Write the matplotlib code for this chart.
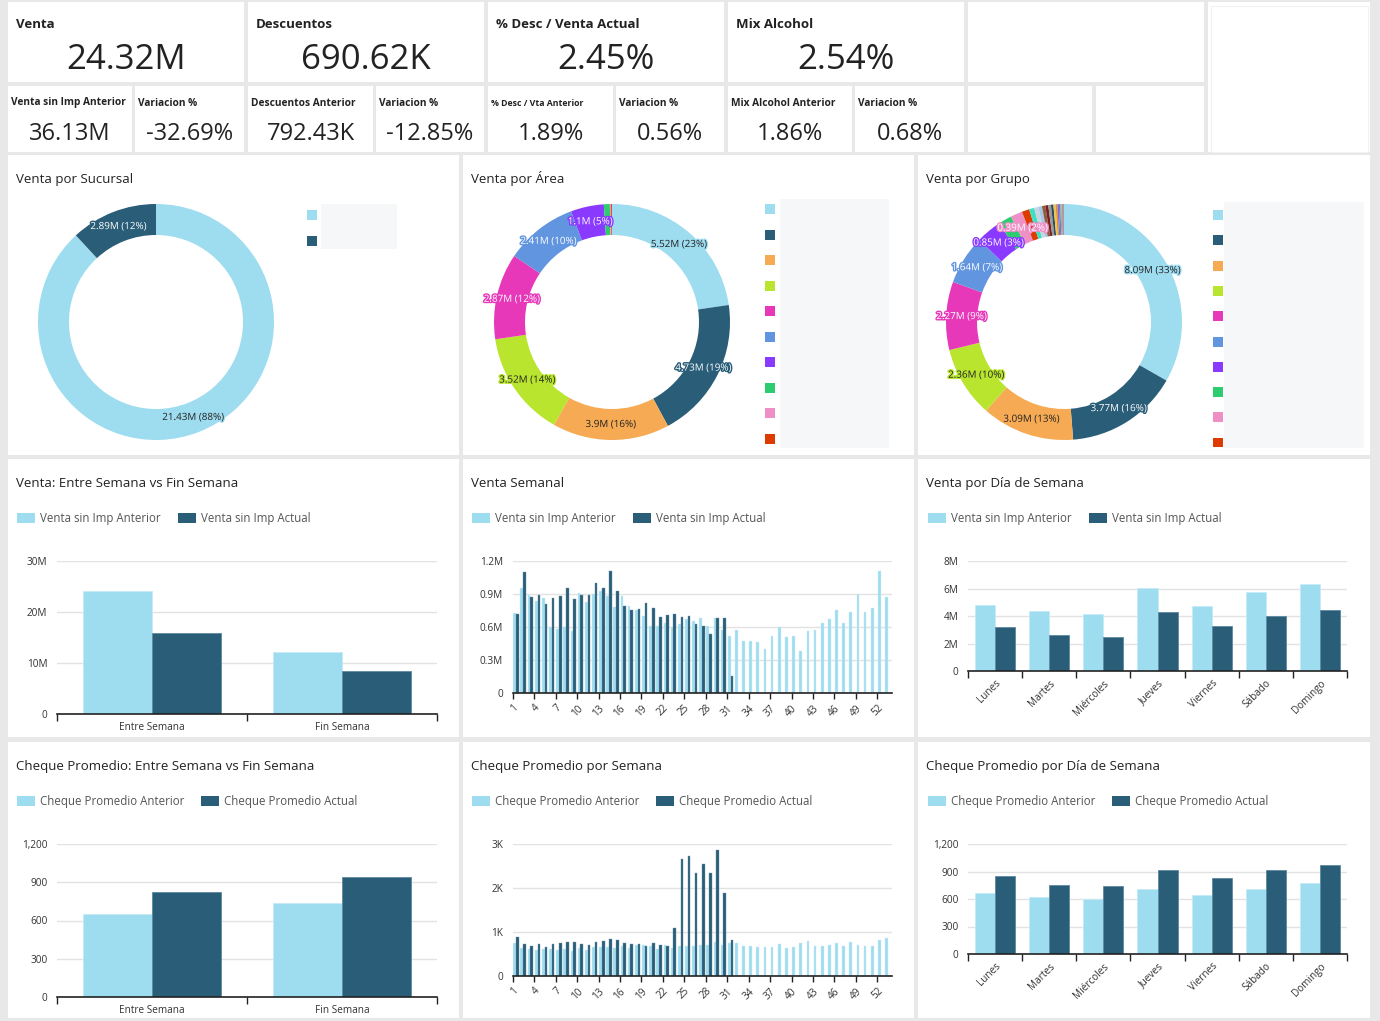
import numpy as np
import matplotlib.pyplot as plt
from matplotlib.patches import Rectangle
import matplotlib.patheffects as pe

plt.rcParams['font.family'] = ['Open Sans', 'DejaVu Sans']

# ---- data ----
kpi_titles = ["Venta", "Descuentos", "% Desc / Venta Actual", "Mix Alcohol"]
kpi_values = ["24.32M", "690.62K", "2.45%", "2.54%"]
sub_titles = ["Venta sin Imp Anterior", "Variacion %", "Descuentos Anterior", "Variacion %",
              "% Desc / Vta Anterior", "Variacion %", "Mix Alcohol Anterior", "Variacion %"]
sub_values = ["36.13M", "-32.69%", "792.43K", "-12.85%", "1.89%", "0.56%", "1.86%", "0.68%"]

sucursal_vals = [21.43, 2.89]
area_vals = [5.52, 4.73, 3.90, 3.52, 2.87, 2.41, 1.10, 0.20, 0.04, 0.03]
area_show = [True, True, True, True, True, True, True, False, False, False]
grupo_vals = [8.09, 3.77, 3.09, 2.36, 2.27, 1.64, 0.85, 0.45, 0.39,
              0.25, 0.17, 0.14, 0.12, 0.11, 0.10, 0.09, 0.08, 0.07, 0.06,
              0.05, 0.05, 0.04, 0.03, 0.03, 0.02]
grupo_show = [True] * 7 + [False, True] + [False] * 16

tipo_dia = ["Entre Semana", "Fin Semana"]
venta_tipo_ant = [24.03, 12.10]
venta_tipo_act = [15.90, 8.42]
cheque_tipo_ant = [651, 737]
cheque_tipo_act = [824, 941]

semanas = list(range(1, 54))
venta_sem_ant = [0.73, 0.95, 0.89, 0.84, 0.86, 0.60, 0.58, 0.60, 0.56, 0.91,
                 0.83, 0.90, 0.93, 0.88, 0.78, 0.88, 0.79, 0.75, 0.70, 0.61,
                 0.61, 0.64, 0.60, 0.63, 0.67, 0.65, 0.68, 0.61, 0.68, 0.57,
                 0.52, 0.57, 0.47, 0.47, 0.46, 0.40, 0.52, 0.60, 0.51, 0.52,
                 0.38, 0.56, 0.57, 0.64, 0.67, 0.75, 0.64, 0.74, 0.90, 0.74,
                 0.77, 1.11, 0.87]
venta_sem_act = [0.72, 1.10, 0.87, 0.89, 0.81, 0.86, 0.88, 0.955, 0.85, 0.89,
                 0.89, 1.00, 0.95, 1.11, 0.93, 0.79, 0.75, 0.76, 0.82, 0.77,
                 0.69, 0.71, 0.72, 0.69, 0.70, 0.63, 0.61, 0.54, 0.68, 0.68,
                 0.15]
cheque_sem_ant = [745, 640, 620, 590, 610, 610, 600, 615, 570, 640,
                  590, 650, 660, 650, 640, 690, 630, 700, 700, 680,
                  615, 705, 640, 690, 675, 675, 710, 700, 775, 705,
                  745, 745, 680, 680, 660, 660, 660, 720, 645, 660,
                  760, 800, 680, 680, 710, 760, 680, 775, 705, 690,
                  690, 810, 865]
cheque_sem_act = [880, 730, 675, 720, 660, 720, 745, 770, 775, 720,
                  700, 775, 800, 840, 810, 745, 720, 730, 680, 745,
                  700, 690, 1100, 2660, 2730, 2350, 2540, 2350, 2870, 1890,
                  820]

dias = ["Lunes", "Martes", "Miércoles", "Jueves", "Viernes", "Sábado", "Domingo"]
venta_dia_ant = [4.80, 4.36, 4.15, 6.01, 4.73, 5.75, 6.33]
venta_dia_act = [3.20, 2.64, 2.50, 4.27, 3.25, 4.00, 4.44]
cheque_dia_ant = [665, 622, 600, 713, 644, 709, 778]
cheque_dia_act = [851, 756, 738, 920, 829, 913, 975]

LIGHT, DARK = '#9EDCF0', '#2A5D78'
PAL = ['#9EDCF0', '#2A5D78', '#F6AA54', '#B9E52F', '#E638B9', '#6195E0', '#8A39FF',
       '#2ECC71', '#EE8FC5', '#DE3B00', '#3DE0C0', '#C9D4E3', '#A7C7E7', '#8B5E3C',
       '#7A1F1F', '#9A9A9A', '#2E4A62', '#E8C84A', '#F08A24', '#5A78D6', '#A05CD6',
       '#6BC17A', '#D98FB8', '#B5482E', '#4FA3C7']
TXT = '#222222'

W, H = 1380, 1021
fig = plt.figure(figsize=(W / 100, H / 100), dpi=100)
fig.patch.set_facecolor('#e8e8e8')
bg = fig.add_axes([0, 0, 1, 1])
bg.set_xlim(0, W)
bg.set_ylim(H, 0)
bg.axis('off')


def box(x0, y0, x1, y1, fc='white', ec='none', lw=0):
    bg.add_patch(Rectangle((x0, y0), x1 - x0, y1 - y0, facecolor=fc, edgecolor=ec, lw=lw))


def ax_px(x0, y0, x1, y1):
    a = fig.add_axes([x0 / W, 1 - y1 / H, (x1 - x0) / W, (y1 - y0) / H])
    a.patch.set_alpha(0)
    return a


# ── KPI cards ──
row1 = [(8, 2, 244, 82), (248, 2, 484, 82), (488, 2, 724, 82), (728, 2, 964, 82), (968, 2, 1204, 82)]
row2 = [(8, 86, 132, 152), (135, 86, 244, 152), (248, 86, 373, 152), (376, 86, 484, 152),
        (488, 86, 613, 152), (616, 86, 724, 152), (728, 86, 852, 152), (855, 86, 964, 152),
        (968, 86, 1092, 152), (1096, 86, 1204, 152)]
for r in row1 + row2:
    box(*r)
box(1208, 2, 1370, 152)
box(1211, 6, 1368, 152, fc='none', ec='#f2f2f2', lw=0.8)

for (x0, y0, x1, y1), t, v in zip(row1, kpi_titles, kpi_values):
    bg.text(x0 + 8, 24, t, fontsize=9.5, fontweight='bold', color=TXT, va='center')
    bg.text((x0 + x1) / 2, 60, v, fontsize=25, color=TXT, ha='center', va='center')
for (x0, y0, x1, y1), t, v in zip(row2, sub_titles, sub_values):
    fs = 6.3 if t.startswith('%') else 7.3
    bg.text(x0 + 3, 103, t, fontsize=fs, fontweight='bold', color=TXT, va='center')
    bg.text((x0 + x1) / 2, 134, v, fontsize=17, color=TXT, ha='center', va='center')

# ── panels ──
panels = {
    'suc': (8, 155, 459, 455), 'area': (463, 155, 914, 455), 'grupo': (918, 155, 1370, 455),
    'b1': (8, 459, 459, 737), 'b2': (463, 459, 914, 737), 'b3': (918, 459, 1370, 737),
    'c1': (8, 742, 459, 1018), 'c2': (463, 742, 914, 1018), 'c3': (918, 742, 1370, 1018),
}
titles = {
    'suc': "Venta por Sucursal", 'area': "Venta por Área", 'grupo': "Venta por Grupo",
    'b1': "Venta: Entre Semana vs Fin Semana", 'b2': "Venta Semanal", 'b3': "Venta por Día de Semana",
    'c1': "Cheque Promedio: Entre Semana vs Fin Semana", 'c2': "Cheque Promedio por Semana",
    'c3': "Cheque Promedio por Día de Semana",
}
for k, r in panels.items():
    box(*r)
    bg.text(r[0] + 8, r[1] + 24, titles[k], fontsize=9.5, color=TXT, va='center')


def fmt_m(v):
    s = f"{v:.2f}".rstrip('0').rstrip('.')
    return s + "M"


def donut(cx, cy, vals, show, total):
    r = 118
    ax = ax_px(cx - r, cy - r, cx + r, cy + r)
    width = 31 / 118
    wedges, _ = ax.pie(vals, colors=PAL[:len(vals)], startangle=90, counterclock=False,
                       radius=1, wedgeprops=dict(width=width, linewidth=0))
    ax.set_xlim(-1, 1)
    ax.set_ylim(-1, 1)
    ax.set_aspect('equal')
    rm = 1 - width / 2
    for w, v, s in zip(wedges, vals, show):
        if not s:
            continue
        ang = np.deg2rad((w.theta1 + w.theta2) / 2)
        fc = w.get_facecolor()
        light = fc[0] * 0.3 + fc[1] * 0.59 + fc[2] * 0.11 > 0.7
        ax.text(rm * np.cos(ang), rm * np.sin(ang),
                f"{fmt_m(v)} ({round(v / total * 100)}%)",
                ha='center', va='center', fontsize=7.1,
                color=TXT if light else 'white',
                path_effects=[pe.withStroke(linewidth=2, foreground=fc)])


total = sum(sucursal_vals)
donut(156, 322, sucursal_vals, [True, True], total)
donut(612, 322, area_vals, area_show, total)
donut(1064, 322, grupo_vals, grupo_show, total)

# donut legends (labels hidden)
box(321, 204, 397, 249, fc='#f6f7f8')
for i in range(len(sucursal_vals)):
    box(307, 210 + 26 * i, 317, 220 + 26 * i, fc=PAL[i])
box(780, 199, 889, 448, fc='#f6f7f8')
for i in range(10):
    yc = 209 + 25.5 * i
    box(765, yc - 5, 775, yc + 5, fc=PAL[i])
box(1224, 202, 1364, 448, fc='#f6f7f8')
for i in range(10):
    yc = 215 + 25.3 * i
    box(1213, yc - 5, 1223, min(yc + 5, 447), fc=PAL[i])


def legend(x0, y, labels):
    for x, lab, c in zip(x0, labels, [LIGHT, DARK]):
        box(x, y - 5, x + 18, y + 5, fc=c)
        bg.text(x + 23, y, lab, fontsize=8.3, color='#555555', va='center')


legend((17, 178), y=518, labels=["Venta sin Imp Anterior", "Venta sin Imp Actual"])
legend((472, 633), y=518, labels=["Venta sin Imp Anterior", "Venta sin Imp Actual"])
legend((928, 1089), y=518, labels=["Venta sin Imp Anterior", "Venta sin Imp Actual"])
legend((17, 201), y=801, labels=["Cheque Promedio Anterior", "Cheque Promedio Actual"])
legend((472, 656), y=801, labels=["Cheque Promedio Anterior", "Cheque Promedio Actual"])
legend((928, 1112), y=801, labels=["Cheque Promedio Anterior", "Cheque Promedio Actual"])


def style(ax, ylim, yticks, yticklabels):
    ax.set_ylim(*ylim)
    ax.set_yticks(yticks)
    ax.set_yticklabels(yticklabels)
    ax.tick_params(axis='y', length=0, pad=7, labelsize=7.2, labelcolor='#333333')
    ax.yaxis.grid(True, color='#e2e2e2', lw=1)
    ax.set_axisbelow(True)
    for s in ['top', 'right', 'left']:
        ax.spines[s].set_visible(False)
    ax.spines['bottom'].set_color('#222222')
    ax.spines['bottom'].set_linewidth(1.2)


def cat_bars(rect, cats, ant, act, ylim, yticks, yticklabels, rotate=False):
    ax = ax_px(*rect)
    n = len(cats)
    x = np.arange(n)
    w = 0.363 if not rotate else 0.37
    ax.bar(x - w / 2, ant, width=w, color=LIGHT, edgecolor='#c4ebf7', lw=0.6)
    ax.bar(x + w / 2, act, width=w, color=DARK, edgecolor='#5d8aa1', lw=0.6)
    ax.set_xlim(-0.5, n - 0.5)
    style(ax, ylim, yticks, yticklabels)
    ax.set_xticks(np.arange(-0.5, n, 1))
    ax.set_xticklabels([])
    ax.tick_params(axis='x', which='major', length=5, width=1, color='#222222')
    ax.set_xticks(x, minor=True)
    if rotate:
        ax.set_xticklabels(cats, minor=True, rotation=45, ha='right', rotation_mode='anchor')
        ax.tick_params(axis='x', which='minor', length=0, pad=5, labelsize=7.2, labelcolor='#333333')
    else:
        ax.set_xticklabels(cats, minor=True)
        ax.tick_params(axis='x', which='minor', length=0, pad=6, labelsize=7.2, labelcolor='#333333')
    return ax


def week_bars(rect, ant, act, ylim, yticks, yticklabels):
    ax = ax_px(*rect)
    xa = np.arange(len(ant))
    xd = np.arange(len(act))
    ax.bar(xa + 0.28, ant, width=0.38, color=LIGHT, edgecolor='#d2f0fa', lw=0.3)
    ax.bar(xd + 0.655, act, width=0.37, color=DARK, edgecolor='#6d96ab', lw=0.3)
    ax.set_xlim(0, len(semanas))
    style(ax, ylim, yticks, yticklabels)
    ticks = np.arange(0, len(semanas), 3)
    ax.set_xticks(ticks)
    ax.set_xticklabels([str(semanas[i]) for i in ticks], rotation=45, ha='right',
                       rotation_mode='anchor')
    ax.tick_params(axis='x', length=4, width=1, color='#222222', pad=3, labelsize=7.2,
                   labelcolor='#333333')
    return ax


cat_bars((57, 561, 437, 714), tipo_dia, venta_tipo_ant, venta_tipo_act,
         (0, 30), [0, 10, 20, 30], ["0", "10M", "20M", "30M"])
week_bars((512.7, 561, 891.7, 693), venta_sem_ant, venta_sem_act,
          (0, 1.2), [0, 0.3, 0.6, 0.9, 1.2], ["0", "0.3M", "0.6M", "0.9M", "1.2M"])
cat_bars((968, 561, 1347, 671), dias, venta_dia_ant, venta_dia_act,
         (0, 8), [0, 2, 4, 6, 8], ["0", "2M", "4M", "6M", "8M"], rotate=True)

cat_bars((57, 844, 437, 997), tipo_dia, cheque_tipo_ant, cheque_tipo_act,
         (0, 1200), [0, 300, 600, 900, 1200], ["0", "300", "600", "900", "1,200"])
week_bars((512.7, 844, 891.7, 976), cheque_sem_ant, cheque_sem_act,
          (0, 3000), [0, 1000, 2000, 3000], ["0", "1K", "2K", "3K"])
cat_bars((968, 844, 1347, 954), dias, cheque_dia_ant, cheque_dia_act,
         (0, 1200), [0, 300, 600, 900, 1200], ["0", "300", "600", "900", "1,200"], rotate=True)

fig.savefig("out.png", dpi=100, facecolor=fig.get_facecolor())
